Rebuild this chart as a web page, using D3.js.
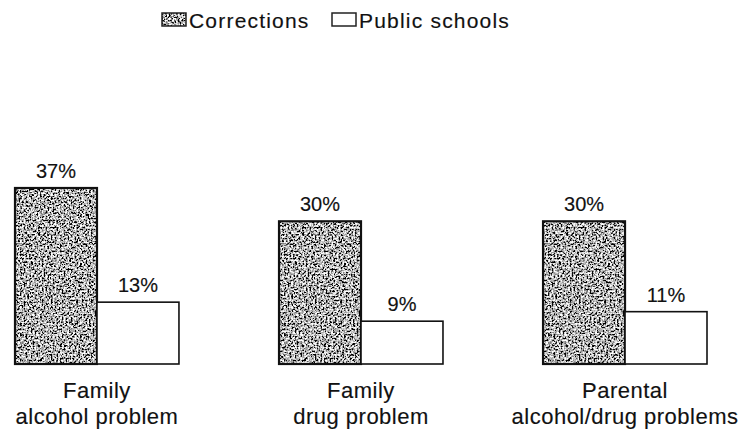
<!DOCTYPE html>
<html>
<head>
<meta charset="utf-8">
<script src="https://cdn.jsdelivr.net/npm/d3@7"></script>
<style>
  body { margin: 0; background: #fff; }
  text { font-family: "Liberation Sans", Arial, Helvetica, sans-serif; fill: #111; stroke: #111; stroke-width: 0.15px; }
</style>
</head>
<body>
<div id="chart"></div>
<script>
// data
const categories = ["Family alcohol problem", "Family drug problem", "Parental alcohol/drug problems"];
const categoryLines = [["Family", "alcohol problem"], ["Family", "drug problem"], ["Parental", "alcohol/drug problems"]];
const seriesNames = ["Corrections", "Public schools"];
const corrections = [37, 30, 30];
const publicSchools = [13, 9, 11];

const width = 741, height = 432;
const baseline = 364;

const svg = d3.select("#chart").append("svg")
    .attr("width", width)
    .attr("height", height);

// grainy grey texture for the corrections bars
const defs = svg.append("defs");
const filter = defs.append("filter")
    .attr("id", "grain")
    .attr("x", 0).attr("y", 0).attr("width", 1).attr("height", 1);
filter.append("feTurbulence")
    .attr("type", "fractalNoise")
    .attr("baseFrequency", 0.55)
    .attr("numOctaves", 2)
    .attr("seed", 4)
    .attr("result", "noise");
filter.append("feColorMatrix")
    .attr("in", "noise")
    .attr("type", "matrix")
    .attr("values", "3.4 0 0 0 -1.25  3.4 0 0 0 -1.25  3.4 0 0 0 -1.25  0 0 0 0 1");

const pattern = defs.append("pattern")
    .attr("id", "grey")
    .attr("patternUnits", "userSpaceOnUse")
    .attr("width", width)
    .attr("height", height);
pattern.append("rect")
    .attr("width", width)
    .attr("height", height)
    .attr("fill", "#7e7e7e")
    .attr("filter", "url(#grain)");

const fills = ["url(#grey)", "#fff"];
const strokeW = [2.2, 1.6];

// scales
const x0 = d3.scaleBand()
    .domain(categories)
    .range([15, 707])
    .paddingInner(0.379)
    .paddingOuter(0);

const x1 = d3.scaleBand()
    .domain(seriesNames)
    .range([0, x0.bandwidth()])
    .padding(0);

const y = d3.scaleLinear()
    .domain([0, 37])
    .range([baseline, 188]);

const rows = categories.map((c, i) => ({
    cat: c,
    lines: categoryLines[i],
    values: [
        {name: seriesNames[0], v: corrections[i], idx: 0},
        {name: seriesNames[1], v: publicSchools[i], idx: 1}
    ]
}));

const group = svg.selectAll(".group")
    .data(rows)
    .enter().append("g")
    .attr("class", "group")
    .attr("transform", d => `translate(${x0(d.cat)},0)`);

group.selectAll("rect")
    .data(d => d.values)
    .enter().append("rect")
    .attr("x", d => x1(d.name))
    .attr("y", d => y(d.v))
    .attr("width", x1.bandwidth())
    .attr("height", d => baseline - y(d.v))
    .attr("fill", d => fills[d.idx])
    .attr("stroke", "#111")
    .attr("stroke-width", d => strokeW[d.idx]);

group.selectAll(".val")
    .data(d => d.values)
    .enter().append("text")
    .attr("class", "val")
    .attr("x", d => x1(d.name) + x1.bandwidth() / 2)
    .attr("y", d => y(d.v) - 10)
    .attr("text-anchor", "middle")
    .style("font-size", "20px")
    .text(d => d.v + "%");

group.selectAll(".cat")
    .data(d => d.lines)
    .enter().append("text")
    .attr("class", "cat")
    .attr("x", x0.bandwidth() / 2)
    .attr("y", (d, i) => 398 + i * 26)
    .attr("text-anchor", "middle")
    .style("font-size", "22px")
    .style("letter-spacing", "0.5px")
    .text(d => d);

// legend
const legendX = [162, 332];
const legend = svg.selectAll(".legend")
    .data(seriesNames)
    .enter().append("g")
    .attr("class", "legend")
    .attr("transform", (d, i) => `translate(${legendX[i]},13)`);

legend.append("rect")
    .attr("width", 24)
    .attr("height", 13)
    .attr("fill", (d, i) => fills[i])
    .attr("stroke", "#222")
    .attr("stroke-width", 1.5);

legend.append("text")
    .attr("x", 27)
    .attr("y", 15)
    .style("font-size", "21px")
    .style("letter-spacing", "1.2px")
    .text(d => d);
</script>
</body>
</html>
